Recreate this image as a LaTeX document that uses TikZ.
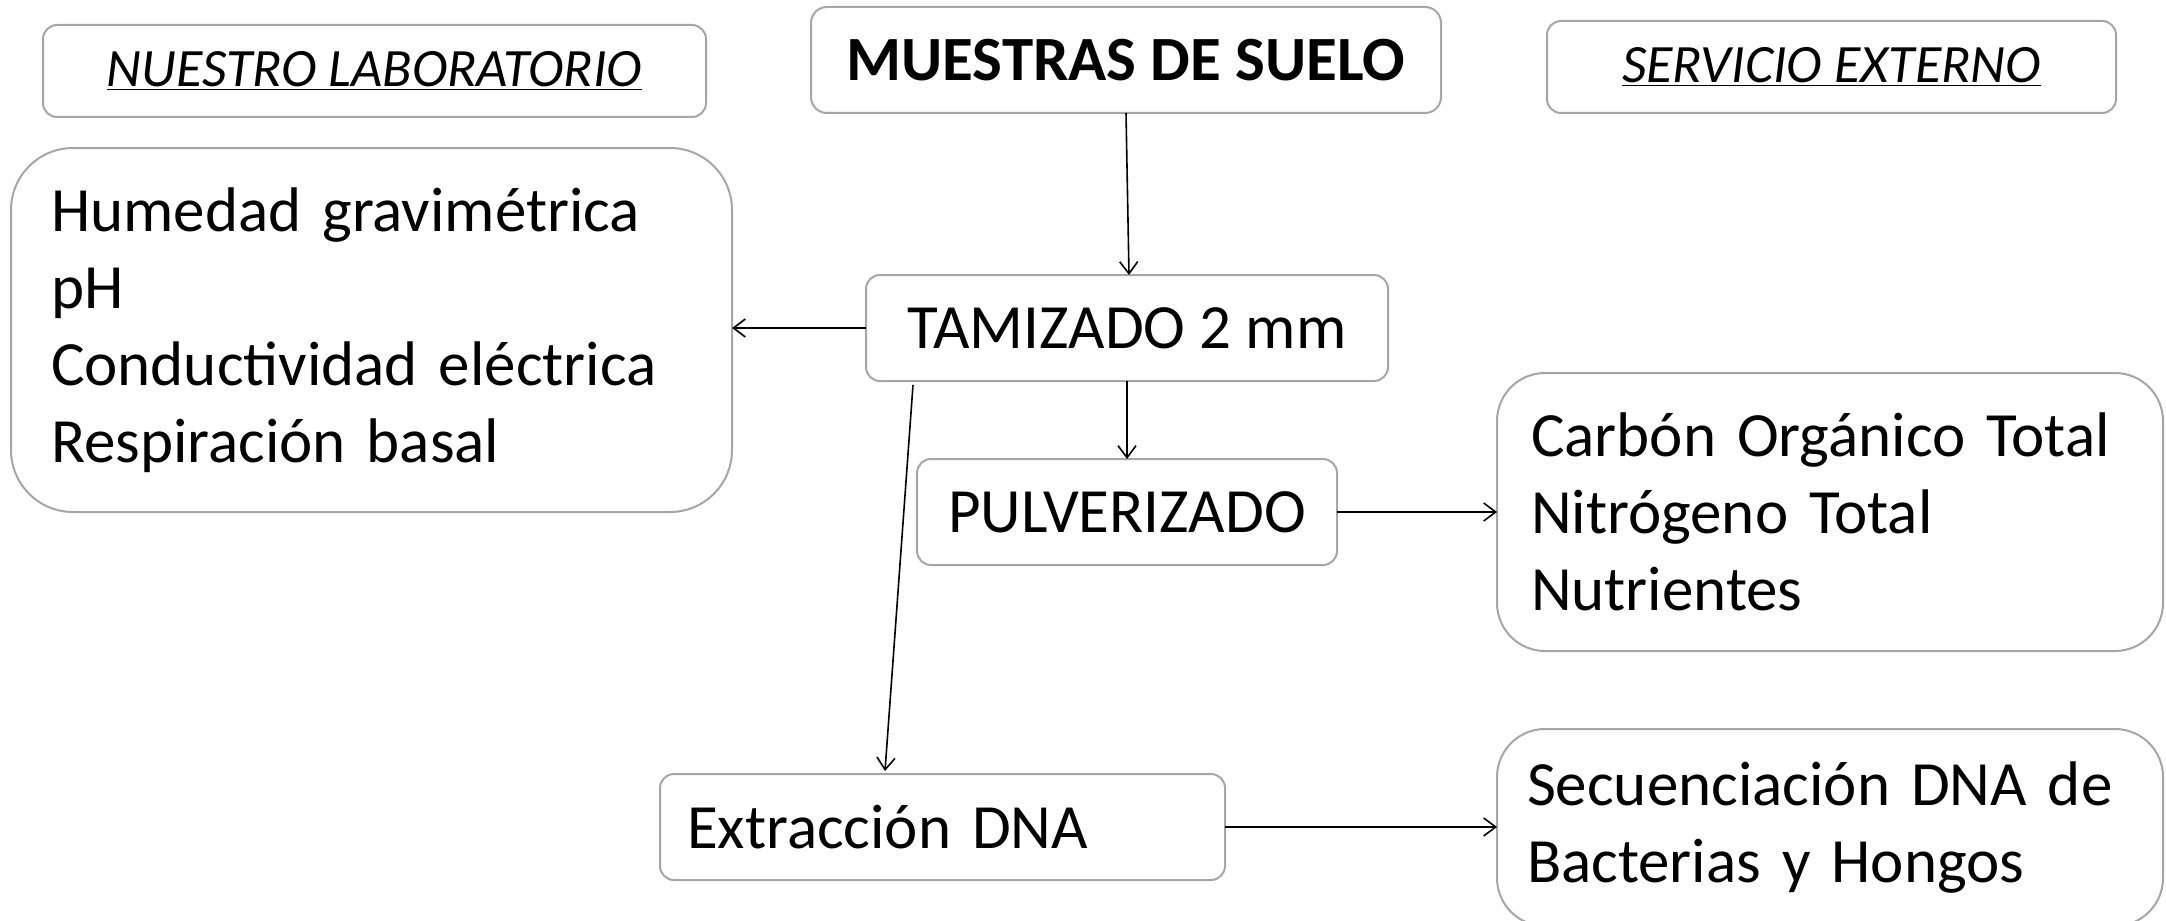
\documentclass[tikz,border=0pt]{standalone}
\usepackage{fontspec}
\setmainfont{Carlito}
\usetikzlibrary{arrows.meta,calc}
\definecolor{boxgray}{HTML}{A6A6A6}
\tikzset{
  box/.style={draw=boxgray, line width=1pt, fill=white, rounded corners=#1, inner sep=0pt, outer sep=0pt},
  box/.default=7pt,
  main/.style={font=\fontsize{31.5}{38.5}\selectfont},
  hdr/.style={font=\fontsize{27}{33}\selectfont\itshape},
  conn/.style={line width=0.8pt, -{Straight Barb[length=6pt,width=9pt,line width=0.8pt]}}
}
\begin{document}
\begin{tikzpicture}[x=0.5pt,y=-0.5pt]
\useasboundingbox (0,0) rectangle (2166,920);
\clip (0,0) rectangle (2166,920);
\fill[white] (0,0) rectangle (2166,920);
% headers
\node[box, hdr, minimum width=331.5pt, minimum height=46pt] (hdrL) at (374.5,71) {\underline{NUESTRO LABORATORIO}};
\node[box=8pt, main, font=\fontsize{31.5}{38.5}\selectfont\bfseries, minimum width=315pt, minimum height=53pt] (muestras) at (1126,60) {MUESTRAS DE SUELO};
\node[box, hdr, minimum width=284.5pt, minimum height=46pt] (hdrR) at (1831.5,67) {\underline{SERVICIO EXTERNO}};
% left analysis box
\node[box=31pt, main, minimum width=360.5pt, minimum height=182pt, text width=320.5pt, inner xsep=20pt, align=left] (lab) at (371.5,330)
  {Humedad gravimétrica\\pH\\Conductividad eléctrica\\Respiración basal};
% process boxes
\node[box, main, minimum width=261pt, minimum height=53pt] (tamiz) at (1127,328) {TAMIZADO 2 mm};
\node[box, main, minimum width=210pt, minimum height=53pt] (pulv) at (1127,512) {PULVERIZADO};
\node[box, main, minimum width=282.5pt, minimum height=53pt, text width=255.5pt, inner xsep=13.5pt, align=left] (extr) at (942.5,827) {Extracción DNA};
% external boxes
\node[box=24pt, main, minimum width=333pt, minimum height=139pt, text width=299pt, inner xsep=17pt, align=left] (carbon) at (1830,512)
  {Carbón Orgánico Total\\Nitrógeno Total\\Nutrientes};
\node[box=24pt, main, minimum width=333pt, minimum height=98.5pt, text width=303pt, inner xsep=15pt, align=left] (secu) at (1830,827.5)
  {Secuenciación DNA de\\Bacterias y Hongos};
% connectors
\coordinate (s1) at ($(tamiz.south west)+(47,4)$);
\coordinate (e1) at ($(extr.north west)+(225,-3)$);
\draw[conn] (muestras.south) -- ($(tamiz.north)+(2,0)$);
\draw[conn] (tamiz.west) -- (tamiz.west -| lab.east);
\draw[conn] (tamiz.south) -- (pulv.north);
\draw[conn] (s1) -- (e1);
\draw[conn] (pulv.east) -- (carbon.west);
\draw[conn] (extr.east) -- (extr.east -| secu.west);
\end{tikzpicture}
\end{document}
